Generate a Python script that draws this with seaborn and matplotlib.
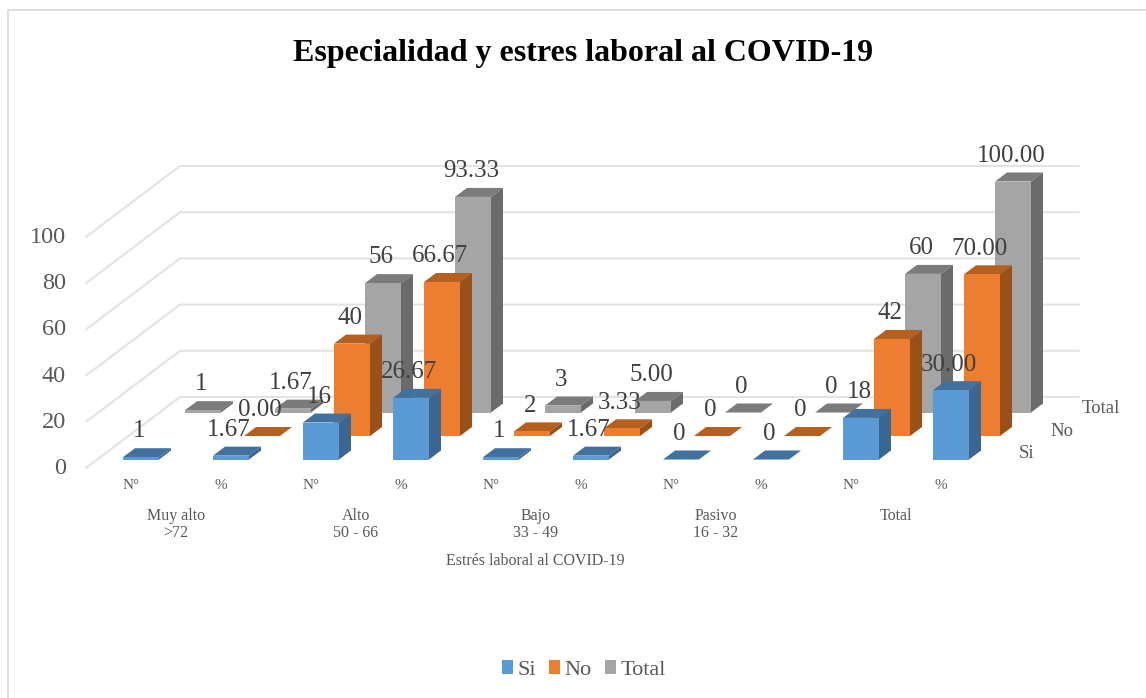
import numpy as np
import pandas as pd
import seaborn as sns
import matplotlib
matplotlib.use("Agg")
import matplotlib.pyplot as plt
from matplotlib.lines import Line2D
from matplotlib.patches import Polygon, Patch
from matplotlib.transforms import ScaledTranslation

# ---------- data ----------
measures = ["N°", "%"] * 5
groups = ["Muy alto\n>72", "Alto\n50 - 66", "Bajo\n33 - 49", "Pasivo\n16 - 32", "Total"]
si = [1, 1.67, 16, 26.67, 1, 1.67, 0, 0, 18, 30.00]
no = [np.nan, 0.00, 40, 66.67, 2, 3.33, 0, 0, 42, 70.00]
total = [1, 1.67, 56, 93.33, 3, 5.00, 0, 0, 60, 100.00]
decimals = [0, 2, 0, 2, 0, 2, 0, 0, 0, 2]
series_names = ["Si", "No", "Total"]
y_ticks = [0, 20, 40, 60, 80, 100]
title = "Especialidad y estres laboral al COVID-19"
x_title = "Estrés laboral al COVID-19"

# ---------- style ----------
W, H = 1146, 698
sns.set_style("white")
plt.rcParams["font.family"] = ["Liberation Serif", "DejaVu Serif"]
TXT = "#595959"
GRID = "#E3E3E3"
FRONT = ["#5B9BD5", "#ED7D31", "#A5A5A5"]
TOP = ["#41719C", "#B5601F", "#7B7B7B"]
SIDE = ["#3A6690", "#9A5119", "#6B6B6B"]

# pixel geometry of the oblique projection
X_PER_SLOT = 90.0
PX_PER_UNIT = 2.31
AX_L, AX_R, AX_BOTTOM, AX_TOP = 70, 1090, 468, 100
SLOT0_PX = 141.0
def slot(px):  # horizontal pixels -> slot units (length)
    return px / X_PER_SLOT
def val(px):  # vertical pixels -> value units (length)
    return px / PX_PER_UNIT

fig = plt.figure(figsize=(W / 100, H / 100), dpi=100, facecolor="white")
ax = fig.add_axes([AX_L / W, 1 - AX_BOTTOM / H, (AX_R - AX_L) / W, (AX_BOTTOM - AX_TOP) / H])

# chart frame: only its top and left edges fall inside the picture
fig.add_artist(Line2D([1, 7.5 / W, 7.5 / W], [1 - 9.5 / H, 1 - 9.5 / H, 0], transform=fig.transFigure,
                      color="#D9D9D9", lw=1.2))

xlim = ((AX_L - SLOT0_PX) / X_PER_SLOT, (AX_R - SLOT0_PX) / X_PER_SLOT)
wall_dx, wall_dy = slot(94), val(71)
wall_x0 = (86 - SLOT0_PX) / X_PER_SLOT
wall_x1 = (1079 - SLOT0_PX) / X_PER_SLOT
for t in y_ticks:
    ax.plot([wall_x0, wall_x0 + wall_dx, wall_x1], [t, t + wall_dy, t + wall_dy],
            color=GRID, lw=1.5, zorder=0, clip_on=False, solid_joinstyle="miter")

bar_w = 36 / X_PER_SLOT
dep_x, dep_y = slot(12), val(9)
layer_x, layer_y = slot(31), val(23.5)
base0 = val(8.5)

for k in [2, 1, 0]:  # back to front
    values = [si, no, total][k]
    df = pd.DataFrame({"pos": np.arange(10) + k * layer_x, "value": values}).dropna()
    base = base0 + k * layer_y
    sns.barplot(data=df, x="pos", y="value", native_scale=True, width=bar_w, color=FRONT[k],
                saturation=1, bottom=base, ax=ax, zorder=2 + 3 * (2 - k), linewidth=0, clip_on=False)
    for p, v in zip(df["pos"], df["value"]):
        l, r = p - bar_w / 2, p + bar_w / 2
        t = base + v
        z = 1.5 + 3 * (2 - k)
        ax.add_patch(Polygon([(l, t), (r, t), (r + dep_x, t + dep_y), (l + dep_x, t + dep_y)],
                             fc=TOP[k], ec="none", zorder=z, clip_on=False))
        ax.add_patch(Polygon([(r, base), (r + dep_x, base + dep_y), (r + dep_x, t + dep_y), (r, t)],
                             fc=SIDE[k], ec="none", zorder=z, clip_on=False))

# data labels
for k in range(3):
    values = [si, no, total][k]
    base = base0 + k * layer_y
    for i, v in enumerate(values):
        if np.isnan(v):
            continue
        ax.annotate(f"{v:.{decimals[i]}f}", (i + k * layer_x, base + v), xytext=(-1.5, 18.5),
                    textcoords="offset points", ha="center", va="center", fontsize=18,
                    color="#404040", zorder=30, annotation_clip=False)

ax.set_xlim(*xlim)
ax.set_ylim(0, val(AX_BOTTOM - AX_TOP))
ax.set_xticks(np.arange(10) - slot(10))
ax.set_xticklabels(measures, fontsize=11, color=TXT)
ax.set_yticks(y_ticks)
ax.set_yticklabels([str(t) for t in y_ticks], fontsize=17.5, color=TXT)
ax.tick_params(axis="both", length=0)
ax.tick_params(axis="x", pad=8)
ax.tick_params(axis="y", pad=3)
for lab in ax.get_yticklabels():
    lab.set_transform(lab.get_transform() + ScaledTranslation(0, 2 / 100, fig.dpi_scale_trans))
ax.set_xlabel("")
ax.set_ylabel("")
ax.patch.set_alpha(0)
for sp in ax.spines.values():
    sp.set_visible(False)

# group labels under the measures
for g, name in enumerate(groups):
    ax.annotate(name, (2 * g + 0.5 - slot(10), 0), xytext=(0, -28.5), textcoords="offset points",
                ha="center", va="top", fontsize=11.5, color=TXT, annotation_clip=False, linespacing=1.15)

fig.text(535.5 / W, 1 - 561 / H, x_title, ha="center", va="center", fontsize=11.5, color=TXT)
fig.text(583 / W, 1 - 54 / H, title, ha="center", va="center", fontsize=23, fontweight="bold", color="black")

# depth axis labels
for name, px, py in zip(series_names, [1027, 1062, 1101], [454, 431, 408]):
    fig.text(px / W, 1 - py / H, name, ha="center", va="center", fontsize=13.5, color=TXT)

handles = [Patch(fc=c, ec="none") for c in FRONT]
fig.legend(handles, series_names, loc="center", bbox_to_anchor=(584 / W, 1 - 670 / H), ncol=3, frameon=False,
           fontsize=16, labelcolor=TXT, handlelength=0.5, handleheight=0.6, handletextpad=0.2, columnspacing=0.6)

fig.savefig("out.png", dpi=100)
